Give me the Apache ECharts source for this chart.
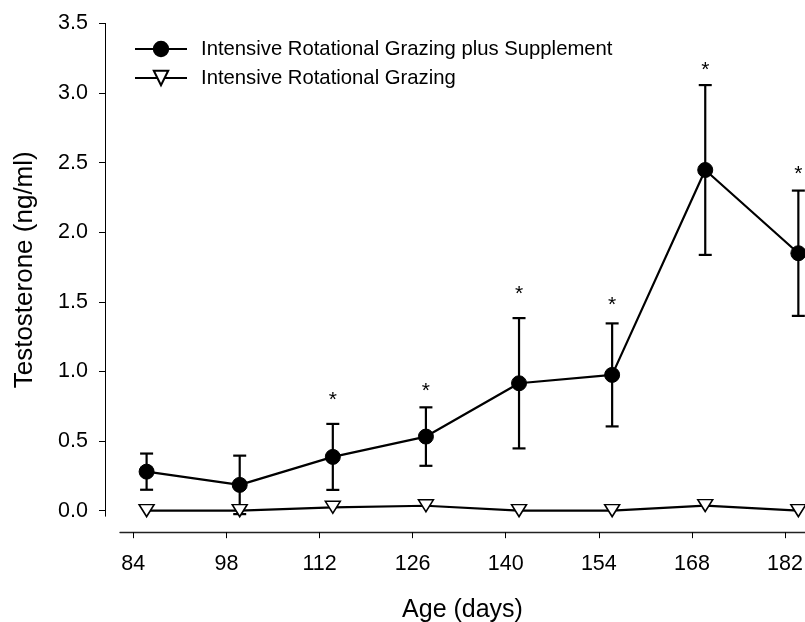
<!DOCTYPE html>
<html>
<head>
<meta charset="utf-8">
<script src="https://cdn.jsdelivr.net/npm/echarts@6/dist/echarts.min.js"></script>
<style>
  html, body { margin: 0; padding: 0; background: #fff; }
  #chart { width: 805px; height: 622px; }
</style>
</head>
<body>
<div id="chart"></div>
<script>
// data
var ages = [86, 100, 114, 128, 142, 156, 170, 184];
var suppMean = [0.28, 0.185, 0.386, 0.532, 0.915, 0.975, 2.447, 1.849];
var suppErr = [0.13, 0.21, 0.237, 0.21, 0.468, 0.37, 0.61, 0.45];
var grazMean = [0, 0, 0.024, 0.035, 0, 0, 0.036, 0];
// height of the significance asterisks (null = none)
var starLevel = [null, null, 0.82, 0.885, 1.585, 1.505, 3.19, 2.447];
var xTicks = [84, 98, 112, 126, 140, 154, 168, 182];
var yTicks = [0, 0.5, 1, 1.5, 2, 2.5, 3, 3.5];

var nameSupp = 'Intensive Rotational Grazing plus Supplement';
var nameGraz = 'Intensive Rotational Grazing';
var font = '"Liberation Sans", Arial, sans-serif';

(function () {
  var myChart = echarts.init(document.getElementById('chart'));

  var suppData = ages.map(function (a, i) { return [a, suppMean[i]]; });
  var grazData = ages.map(function (a, i) { return [a, grazMean[i]]; });
  var errData = ages.map(function (a, i) {
    return [a, suppMean[i] - suppErr[i], suppMean[i] + suppErr[i]];
  });
  var starData = [];
  ages.forEach(function (a, i) {
    if (starLevel[i] != null) starData.push([a, starLevel[i]]);
  });

  var option = {
    animation: false,
    textStyle: { fontFamily: font, color: '#000' },
    grid: { left: 120, right: 0, top: 23.4, bottom: 105.8, outerBoundsMode: 'none', containLabel: false },
    legend: {
      orient: 'vertical',
      left: 134,
      top: 39,
      padding: 0,
      itemWidth: 52,
      itemHeight: 18,
      itemGap: 9,
      data: [nameSupp, nameGraz],
      textStyle: { fontSize: 20.3, color: '#000', fontFamily: font, padding: [0, 0, 0, 9] }
    },
    xAxis: {
      type: 'value',
      min: 82,
      max: 185,
      offset: 16,
      name: 'Age (days)',
      nameLocation: 'middle',
      nameGap: 65,
      nameTextStyle: { fontSize: 25, color: '#000' },
      axisLine: { show: true, onZero: false, lineStyle: { color: '#222', width: 1.4 } },
      axisTick: { show: true, length: 6, customValues: xTicks, lineStyle: { color: '#000' } },
      axisLabel: { customValues: xTicks, fontSize: 21.5, color: '#000', margin: 21 },
      splitLine: { show: false }
    },
    yAxis: {
      type: 'value',
      min: -0.04,
      max: 3.5,
      offset: 15,
      name: 'Testosterone (ng/ml)',
      nameLocation: 'middle',
      nameGap: 67,
      nameTextStyle: { fontSize: 26, color: '#000' },
      axisLine: { show: true, onZero: false, lineStyle: { color: '#000', width: 1 } },
      axisTick: { show: true, length: 6, customValues: yTicks, lineStyle: { color: '#000' } },
      axisLabel: {
        customValues: yTicks,
        fontSize: 21.5,
        color: '#000',
        margin: 17,
        formatter: function (v) { return v.toFixed(1); }
      },
      splitLine: { show: false }
    },
    series: [
      {
        // error bars
        type: 'custom',
        name: 'err',
        z: 2,
        data: errData,
        encode: { x: 0, y: [1, 2] },
        renderItem: function (params, api) {
          var x = api.value(0);
          var lo = api.coord([x, api.value(1)]);
          var hi = api.coord([x, api.value(2)]);
          var w = 6.5;
          var st = { stroke: '#000', lineWidth: 2.2, fill: null };
          return {
            type: 'group',
            children: [
              { type: 'line', shape: { x1: lo[0], y1: lo[1], x2: hi[0], y2: hi[1] }, style: st },
              { type: 'line', shape: { x1: hi[0] - w, y1: hi[1], x2: hi[0] + w, y2: hi[1] }, style: st },
              { type: 'line', shape: { x1: lo[0] - w, y1: lo[1], x2: lo[0] + w, y2: lo[1] }, style: st }
            ]
          };
        }
      },
      {
        name: nameSupp,
        type: 'line',
        z: 3,
        data: suppData,
        symbol: 'circle',
        symbolSize: 15,
        showAllSymbol: true,
        lineStyle: { color: '#000', width: 2.2 },
        itemStyle: { color: '#000', borderColor: '#000', borderWidth: 1 }
      },
      {
        name: nameGraz,
        type: 'line',
        z: 4,
        data: grazData,
        symbol: 'triangle',
        symbolRotate: 180,
        symbolSize: [15, 12],
        showAllSymbol: true,
        lineStyle: { color: '#000', width: 2.2 },
        itemStyle: { color: '#fff', borderColor: '#000', borderWidth: 1.5 }
      },
      {
        // significance asterisks
        type: 'custom',
        name: 'stars',
        z: 5,
        data: starData,
        encode: { x: 0, y: 1 },
        renderItem: function (params, api) {
          var p = api.coord([api.value(0), api.value(1)]);
          return {
            type: 'text',
            style: {
              text: '*',
              x: p[0],
              y: p[1] + 4,
              fontSize: 21,
              fontFamily: font,
              fill: '#000',
              align: 'center',
              verticalAlign: 'middle'
            }
          };
        }
      }
    ]
  };

  myChart.setOption(option);
  window.addEventListener('resize', function () {
    myChart.resize();
  });
})();
</script>
</body>
</html>
